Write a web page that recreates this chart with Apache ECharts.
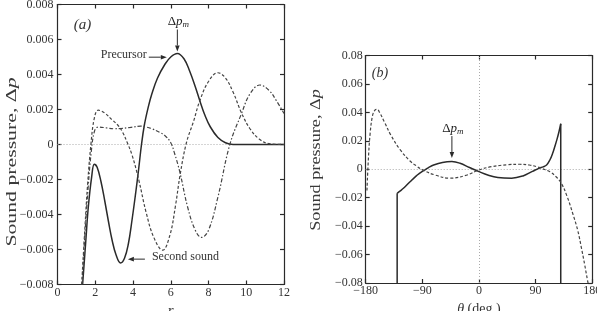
<!DOCTYPE html>
<html><head><meta charset="utf-8">
<script src="https://cdn.jsdelivr.net/npm/echarts@6/dist/echarts.min.js"></script>
<style>html,body{margin:0;padding:0;background:#fff}#c{width:597px;height:311px}</style>
</head><body><div id="c"></div>
<script>
// ---- tick values ----
const leftXTicks = [0, 2, 4, 6, 8, 10, 12];
const leftYTicks = [-0.008, -0.006, -0.004, -0.002, 0, 0.002, 0.004, 0.006, 0.008];
const rightXTicks = [-180, -90, 0, 90, 180];
const rightYTicks = [-0.08, -0.06, -0.04, -0.02, 0, 0.02, 0.04, 0.06, 0.08];

// ---- panel (a): pressure vs r ----
const leftSolid = [[1.33,-0.008],[1.5,-0.0055],[1.63,-0.0036],[1.81,-0.00185],[1.95,-0.00113],[2.1,-0.0013],[2.3,-0.0021],[2.5,-0.0032],[2.7,-0.0044],[2.9,-0.0055],[3.1,-0.0063],[3.34,-0.00677],[3.55,-0.0065],[3.75,-0.0057],[3.95,-0.0043],[4.15,-0.0027],[4.3,-0.0014],[4.45,0],[4.6,0.0011],[4.8,0.0021],[5.0,0.0029],[5.3,0.0038],[5.7,0.0046],[6.0,0.005],[6.35,0.0052],[6.7,0.0049],[7.0,0.0042],[7.3,0.0033],[7.54,0.0025],[7.8,0.0017],[8.1,0.001],[8.5,0.0004],[8.9,0.0001],[9.3,0],[12,0]];
const leftDashed = [[1.28,-0.008],[1.45,-0.0048],[1.6,-0.0022],[1.77,0],[1.95,0.0015],[2.16,0.00196],[2.5,0.0018],[2.9,0.0014],[3.2,0.0011],[3.45,0.0007],[3.7,0.0001],[3.95,-0.0006],[4.3,-0.002],[4.7,-0.0039],[5.1,-0.0053],[5.57,-0.00604],[5.95,-0.0052],[6.25,-0.0035],[6.5,-0.0017],[6.83,0.0001],[7.2,0.0013],[7.54,0.0025],[8.0,0.0036],[8.5,0.0041],[8.9,0.0038],[9.3,0.003],[9.75,0.0018],[10.2,0.0009],[10.7,0.0003],[11.2,0.00005],[12,0]];
const leftDashDot = [[1.3,-0.008],[1.45,-0.0052],[1.62,-0.0025],[1.8,-0.0003],[1.97,0.0008],[2.16,0.001],[2.6,0.00095],[3.0,0.0009],[3.4,0.00092],[3.9,0.00098],[4.4,0.00105],[4.7,0.001],[5.0,0.0009],[5.4,0.0007],[5.7,0.0005],[6.0,0.0001],[6.2,-0.0005],[6.48,-0.00157],[6.9,-0.0036],[7.3,-0.0049],[7.63,-0.00531],[8.0,-0.0049],[8.5,-0.003],[9.13,0],[9.75,0.00177],[10.2,0.0029],[10.72,0.0034],[11.2,0.0031],[11.6,0.0025],[12,0.00177]];

// ---- panel (b): pressure vs theta ----
const rightSolid = [[-130,-0.0169],[-125,-0.0152],[-120,-0.0134],[-110,-0.009],[-100,-0.0048],[-94,-0.0028],[-88,-0.001],[-80,0.0012],[-72,0.003],[-58,0.0048],[-43,0.0054],[-30,0.0042],[-15,0.0012],[0,-0.0017],[15,-0.0042],[30,-0.0058],[52,-0.0063],[70,-0.0047],[85,-0.0015],[96,0.0008],[102,0.0017],[107.5,0.003],[112.7,0.0065],[117,0.011],[120.6,0.016],[124,0.021],[127,0.026],[130,0.032]];
const rightSolidLeftEdge = [[-130,-0.08],[-130,-0.0169]];
const rightSolidRightEdge = [[130,0.032],[130,-0.08]];
const rightDashed = [[-178,-0.015],[-176,0.005],[-173,0.025],[-169,0.038],[-165,0.0418],[-162,0.0422],[-158,0.04],[-150,0.033],[-140,0.024],[-125,0.0136],[-110,0.006],[-100,0.0025],[-88,-0.0008],[-70,-0.004],[-46,-0.0063],[-20,-0.0042],[0,-0.0005],[20,0.0018],[45,0.0032],[65,0.0035],[80,0.003],[92,0.0018],[100,0.0005],[112.7,-0.0017],[122,-0.005],[131,-0.0099],[140,-0.019],[149.7,-0.032],[157,-0.043],[163,-0.0556],[168,-0.067],[172.5,-0.078],[173.5,-0.08]];

const FONT = "'Liberation Serif','DejaVu Serif',serif";
const INK = '#2a2a2a';
const minus = s => s.replace('-', '\u2212');
const fmtY = d => v => Math.abs(v) < 1e-12 ? '0' : minus(v.toFixed(d));

function axisBase(show) {
  return {
    type: 'value',
    axisLine: { show: true, onZero: false, lineStyle: { color: INK, width: 1.2 } },
    axisTick: { show: true, inside: true, length: 4, lineStyle: { color: INK, width: 1.2 } },
    splitLine: { show: false },
    axisLabel: { show: show, color: '#333', fontFamily: FONT, fontSize: 12 },
  };
}
function xAx(grid, ticks, pos, show, extra) {
  return Object.assign(axisBase(show), {
    gridIndex: grid, position: pos, min: ticks[0], max: ticks[ticks.length - 1],
    interval: ticks[1] - ticks[0]
  }, extra || {});
}
const leftYFmt = fmtY(3), rightYFmt = fmtY(2);

const xAxes = [
  xAx(0, leftXTicks, 'bottom', true, {
    axisLabel: { show: true, color: '#333', fontFamily: FONT, fontSize: 12, margin: 2 },
    name: 'r', nameLocation: 'middle', nameGap: 15,
    nameTextStyle: { fontFamily: FONT, fontSize: 15, fontStyle: 'italic', color: '#333', verticalAlign: 'top' }
  }),
  xAx(0, leftXTicks, 'top', false),
  xAx(1, rightXTicks, 'bottom', true, {
    axisLabel: { show: true, color: '#333', fontFamily: FONT, fontSize: 12, margin: 2, formatter: v => minus(String(v)) },
    name: '{i|θ} (deg.)', nameLocation: 'middle', nameGap: 19,
    nameTextStyle: { fontFamily: FONT, fontSize: 14, color: '#333', verticalAlign: 'top',
      rich: { i: { fontFamily: FONT, fontSize: 14, fontStyle: 'italic', color: '#333' } } }
  }),
  xAx(1, rightXTicks, 'top', false)
];
const yAxes = [
  xAx(0, leftYTicks, 'left', true, { axisLabel: { show: true, color: '#333', fontFamily: FONT, fontSize: 12, margin: 4, formatter: leftYFmt } }),
  xAx(0, leftYTicks, 'right', false),
  xAx(1, rightYTicks, 'left', true, { axisLabel: { show: true, color: '#333', fontFamily: FONT, fontSize: 12, margin: 3, formatter: rightYFmt } }),
  xAx(1, rightYTicks, 'right', false)
];

const zeroLine = { color: '#aaa', type: [1, 2], width: 1 };
function line(data, xi, yi, style, smooth, extra) {
  return Object.assign({
    type: 'line', data: data, xAxisIndex: xi, yAxisIndex: yi,
    symbol: 'none', smooth: smooth ? 0.4 : false,
    lineStyle: style, clip: true, silent: true, animation: false, z: 3
  }, extra || {});
}

const solidStyle = { color: INK, width: 1.5 };
const dashStyle = { color: '#444', width: 1.2, type: [3, 2] };
const dashDotStyle = { color: '#444', width: 1.2, type: [4, 2, 1.5, 2] };

const option = {
  animation: false,
  backgroundColor: '#fff',
  grid: [
    { left: 57.5, top: 4.5, width: 226.5, height: 280, containLabel: false, outerBoundsMode: 'none' },
    { left: 365.7, top: 55.5, width: 226.5, height: 227.5, containLabel: false, outerBoundsMode: 'none' }
  ],
  xAxis: xAxes,
  yAxis: yAxes,
  series: [
    line(leftSolid, 0, 0, solidStyle, true, {
      markLine: { silent: true, symbol: 'none', label: { show: false }, lineStyle: zeroLine, data: [{ yAxis: 0 }], z: 1 }
    }),
    line(leftDashed, 0, 0, dashStyle, true),
    line(leftDashDot, 0, 0, dashDotStyle, true),
    line(rightSolid, 2, 2, solidStyle, true, {
      markLine: { silent: true, symbol: 'none', label: { show: false }, lineStyle: zeroLine, data: [{ yAxis: 0 }, { xAxis: 0 }], z: 1 }
    }),
    line(rightSolidLeftEdge, 2, 2, solidStyle, false),
    line(rightSolidRightEdge, 2, 2, solidStyle, false),
    line(rightDashed, 2, 2, dashStyle, true)
  ]
};

const chart = echarts.init(document.getElementById('c'), null, { renderer: 'canvas' });
chart.setOption(option);

// ---- annotations anchored to data points ----
const annotLeftPeak = [6.35, 0.0052];
const annotPrecursorTip = [5.79, 0.00499];
const annotSecondTip = [3.73, -0.00655];
const annotRightPeak = [-43, 0.0054];

const pL = p => chart.convertToPixel({ seriesIndex: 0 }, p);
const pR = p => chart.convertToPixel({ seriesIndex: 3 }, p);

function arrow(tip, dx, dy, len) {
  const sx = tip[0] - dx * len, sy = tip[1] - dy * len;
  const hx = tip[0] - dx * 6, hy = tip[1] - dy * 6;
  const nx = -dy * 2.3, ny = dx * 2.3;
  return [
    { type: 'line', shape: { x1: sx, y1: sy, x2: hx, y2: hy }, style: { stroke: INK, lineWidth: 1 }, silent: true },
    { type: 'polygon', shape: { points: [[tip[0], tip[1]], [hx + nx, hy + ny], [hx - nx, hy - ny]] }, style: { fill: INK }, silent: true }
  ];
}
const dpRich = {
  d: { fontFamily: FONT, fontSize: 13, fill: '#222' },
  p: { fontFamily: FONT, fontSize: 13, fontStyle: 'italic', fill: '#222' },
  m: { fontFamily: FONT, fontSize: 9, fontStyle: 'italic', fill: '#222', verticalAlign: 'bottom', padding: [6, 0, 0, 0] }
};

const lp = pL(annotLeftPeak), lpt = [lp[0], lp[1] - 2];
const pc = pL(annotPrecursorTip);
const ss = pL(annotSecondTip);
const rp = pR(annotRightPeak), rpt = [rp[0], rp[1] - 3.5];

const titleRich = size => ({
  n: { fontFamily: FONT, fontSize: size, fill: '#3a3a3a' },
  i: { fontFamily: FONT, fontSize: size, fontStyle: 'italic', fill: '#3a3a3a' }
});

const g = [].concat(
  arrow(lpt, 0, 1, 22),
  arrow(pc, 1, 0, 18),
  arrow(ss, -1, 0, 17),
  arrow(rpt, 0, 1, 22),
  [
    { type: 'text', x: lpt[0] + 1, y: lpt[1] - 30, style: { text: '{d|Δ}{p|p}{m|m}', rich: dpRich, align: 'center', verticalAlign: 'middle' }, silent: true },
    { type: 'text', x: rpt[0] + 1, y: rpt[1] - 29, style: { text: '{d|Δ}{p|p}{m|m}', rich: dpRich, align: 'center', verticalAlign: 'middle' }, silent: true },
    { type: 'text', x: pc[0] - 20, y: pc[1] - 2, style: { text: 'Precursor', font: '12px ' + FONT, fill: '#333', align: 'right', verticalAlign: 'middle' }, silent: true },
    { type: 'text', x: ss[0] + 24, y: ss[1] - 2, style: { text: 'Second sound', font: '12px ' + FONT, fill: '#333', align: 'left', verticalAlign: 'middle' }, silent: true },
    { type: 'text', x: 82.5, y: 25, style: { text: '(a)', font: 'italic 15px ' + FONT, fill: '#333', align: 'center', verticalAlign: 'middle' }, silent: true },
    { type: 'text', x: 380, y: 73, style: { text: '(b)', font: 'italic 14px ' + FONT, fill: '#333', align: 'center', verticalAlign: 'middle' }, silent: true },
    { type: 'text', x: 12, y: 162, rotation: Math.PI / 2, scaleX: 1.45, scaleY: 1,
      style: { text: '{n|Sound pressure, Δ}{i|p}', align: 'center', verticalAlign: 'middle', rich: titleRich(15) }, silent: true },
    { type: 'text', x: 316, y: 160, rotation: Math.PI / 2, scaleX: 1.3, scaleY: 1,
      style: { text: '{n|Sound pressure, Δ}{i|p}', align: 'center', verticalAlign: 'middle', rich: titleRich(14) }, silent: true }
  ]
);
chart.setOption({ graphic: g });
</script></body></html>
